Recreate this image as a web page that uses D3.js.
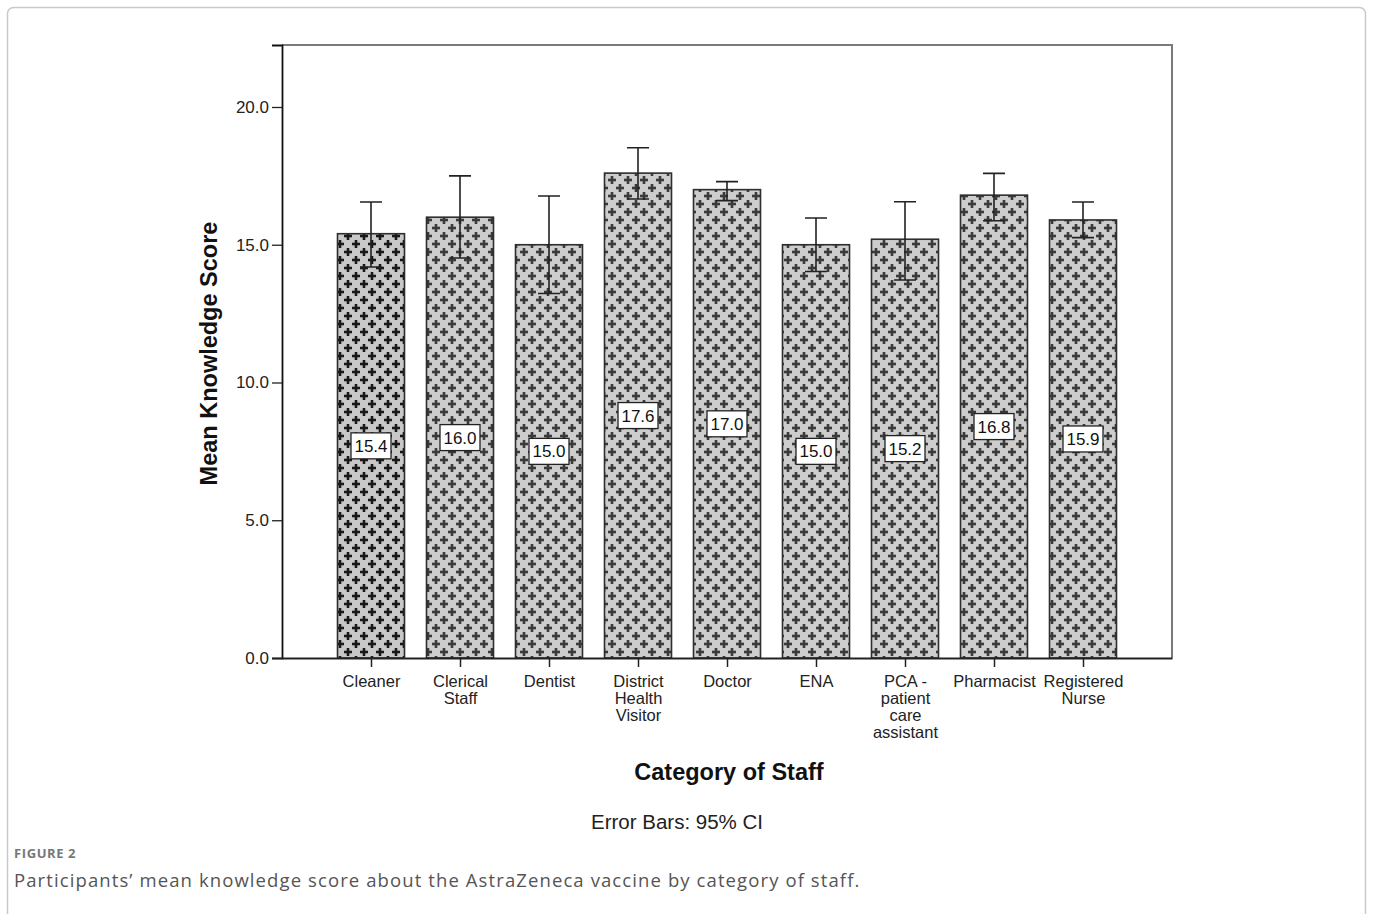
<!DOCTYPE html>
<html>
<head>
<meta charset="utf-8">
<script src="https://cdn.jsdelivr.net/npm/d3@7"></script>
<style>
  html, body { margin: 0; padding: 0; background: #fff; }
  svg { display: block; }
</style>
</head>
<body>
<svg id="chart" width="1373" height="914"></svg>
<script>
// Staff categories (line breaks mark wrapped tick labels)
const categories = [
  "Cleaner", "Clerical\nStaff", "Dentist", "District\nHealth\nVisitor",
  "Doctor", "ENA", "PCA -\npatient\ncare\nassistant", "Pharmacist", "Registered\nNurse"
];
// Mean knowledge score per category
const means = [15.4, 16.0, 15.0, 17.6, 17.0, 15.0, 15.2, 16.8, 15.9];
// 95% confidence interval bounds
const ciLow  = [14.19, 14.52, 13.23, 16.66, 16.60, 14.03, 13.72, 15.87, 15.26];
const ciHigh = [16.55, 17.50, 16.77, 18.52, 17.29, 15.97, 16.56, 17.59, 16.55];
// Y axis ticks
const yTicks = [0, 5, 10, 15, 20];

const FONT = "'Liberation Sans', Arial, sans-serif";
const svg = d3.select("#chart");
const plot = { left: 282, right: 1172, top: 45, bottom: 658 };

// Outer figure panel
svg.append("rect")
  .attr("x", 7.5).attr("y", 7.5).attr("width", 1358).attr("height", 930)
  .attr("rx", 6).attr("fill", "none").attr("stroke", "#c9c9c9").attr("stroke-width", 1.5);

// Fill patterns: grey ground with dark crosses
const defs = svg.append("defs");
function crossPattern(id, bg, ink, w, arm) {
  const p = defs.append("pattern").attr("id", id)
    .attr("patternUnits", "userSpaceOnUse").attr("width", 16).attr("height", 16);
  p.append("rect").attr("width", 16).attr("height", 16).attr("fill", bg);
  [[4, 4], [12, 12]].forEach(([cx, cy]) => {
    p.append("rect").attr("x", cx - arm / 2).attr("y", cy - w / 2).attr("width", arm).attr("height", w).attr("fill", ink);
    p.append("rect").attr("x", cx - w / 2).attr("y", cy - arm / 2).attr("width", w).attr("height", arm).attr("fill", ink);
  });
}
crossPattern("crossDark", "#c8c8c8", "#181818", 2.6, 8);
crossPattern("crossLight", "#cdcdcd", "#3a3a3a", 2.6, 8);

const x = d3.scalePoint().domain(categories).range([plot.left, plot.right]).padding(1);
const y = d3.scaleLinear().domain([0, 22.25]).range([plot.bottom, plot.top]);
const barW = 67;

const data = categories.map((c, i) => ({ c, m: means[i], lo: ciLow[i], hi: ciHigh[i], i }));

// Frame (top and right edges)
svg.append("path")
  .attr("d", `M${plot.left},${plot.top}H${plot.right}V${plot.bottom}`)
  .attr("fill", "none").attr("stroke", "#7a7a7a").attr("stroke-width", 2);

// Bars
svg.append("g").selectAll("rect").data(data).join("rect")
  .attr("x", d => x(d.c) - barW / 2)
  .attr("y", d => y(d.m))
  .attr("width", barW)
  .attr("height", d => y(0) - y(d.m))
  .attr("fill", d => d.i === 0 ? "url(#crossDark)" : "url(#crossLight)")
  .attr("stroke", "#2e2e2e").attr("stroke-width", 1.6);

// Error bars
const eb = svg.append("g").attr("stroke", "#222").attr("stroke-width", 1.6).attr("fill", "none");
eb.selectAll("path").data(data).join("path")
  .attr("d", d => {
    const cx = x(d.c), hw = 11;
    return `M${cx},${y(d.hi)}V${y(d.lo)}M${cx - hw},${y(d.hi)}H${cx + hw}M${cx - hw},${y(d.lo)}H${cx + hw}`;
  });

// Value labels
const lbl = svg.append("g").selectAll("g").data(data).join("g")
  .attr("transform", d => `translate(${x(d.c)},${y(d.m / 2)})`);
lbl.append("rect").attr("x", -20).attr("y", -13).attr("width", 40).attr("height", 26)
  .attr("fill", "#fff").attr("stroke", "#222").attr("stroke-width", 1.3);
lbl.append("text").attr("text-anchor", "middle").attr("dy", "0.36em")
  .attr("font-family", FONT).attr("font-size", 17)
  .attr("fill", "#111").text(d => d.m.toFixed(1));

// Y axis
const yAxis = svg.append("g").attr("transform", `translate(${plot.left},0)`)
  .call(d3.axisLeft(y).tickValues(yTicks).tickFormat(d3.format(".1f")).tickSize(10).tickPadding(3));
yAxis.select(".domain").attr("stroke", "#111").attr("stroke-width", 1.8);
yAxis.selectAll(".tick line").attr("stroke", "#222").attr("stroke-width", 1.3);
yAxis.selectAll(".tick text").attr("font-family", FONT)
  .attr("font-size", 17).attr("fill", "#222");

// X axis
const xAxis = svg.append("g").attr("transform", `translate(0,${plot.bottom})`)
  .call(d3.axisBottom(x).tickSize(9).tickSizeOuter(0).tickFormat(""));
xAxis.select(".domain").attr("stroke", "#222").attr("stroke-width", 2);
xAxis.selectAll(".tick line").attr("stroke", "#222").attr("stroke-width", 1.5);
xAxis.selectAll(".tick").append("text")
  .attr("text-anchor", "middle").attr("fill", "#222")
  .attr("font-family", FONT).attr("font-size", 16.5)
  .each(function (d) {
    d.split("\n").forEach((line, k) => {
      d3.select(this).append("tspan").attr("x", 0).attr("y", 29 + k * 17).text(line);
    });
  });

// Axis titles
svg.append("text").attr("transform", `translate(217,${(plot.top + plot.bottom) / 2 + 2}) rotate(-90)`)
  .attr("text-anchor", "middle").attr("font-family", FONT)
  .attr("font-weight", "bold").attr("font-size", 23.5).attr("fill", "#111")
  .text("Mean Knowledge Score");
svg.append("text").attr("x", 729).attr("y", 780).attr("text-anchor", "middle")
  .attr("font-family", FONT)
  .attr("font-weight", "bold").attr("font-size", 23.5).attr("fill", "#111")
  .text("Category of Staff");
svg.append("text").attr("x", 677).attr("y", 829).attr("text-anchor", "middle")
  .attr("font-family", FONT)
  .attr("font-size", 20.5).attr("fill", "#222")
  .text("Error Bars: 95% CI");

// Figure caption
svg.append("text").attr("x", 14).attr("y", 858)
  .attr("font-family", "'Open Sans', sans-serif").attr("font-weight", "bold")
  .attr("font-size", 13).attr("letter-spacing", 0.6).attr("fill", "#777").text("FIGURE 2");
svg.append("text").attr("x", 14).attr("y", 887)
  .attr("font-family", "'Open Sans', sans-serif")
  .attr("font-size", 18.5).attr("letter-spacing", 1.1).attr("fill", "#555")
  .text("Participants\u2019 mean knowledge score about the AstraZeneca vaccine by category of staff.");
</script>
</body>
</html>
